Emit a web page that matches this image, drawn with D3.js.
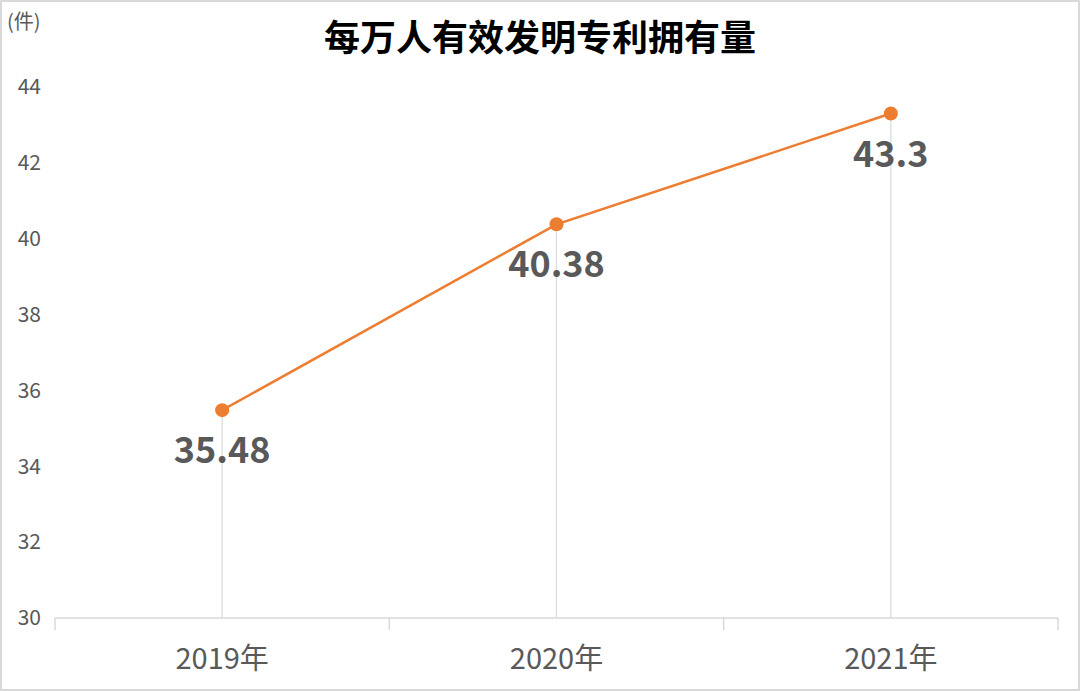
<!DOCTYPE html>
<html>
<head>
<meta charset="utf-8">
<script src="https://cdn.jsdelivr.net/npm/d3@7"></script>
<style>
  body { margin: 0; background: #fff; }
  text { font-family: "Noto Sans CJK SC", "Noto Sans", sans-serif; }
</style>
</head>
<body>
<div id="chart"></div>
<script>
// chart size
var svgWidth = 1080;
var svgHeight = 691;

// data
var years = ["2019年", "2020年", "2021年"];
var values = [35.48, 40.38, 43.3];
var yTicks = [30, 32, 34, 36, 38, 40, 42, 44];

var margin = { left: 55, right: 22, top: 87, bottom: 73 };

var svg = d3.select("#chart")
  .append("svg")
  .attr("width", svgWidth)
  .attr("height", svgHeight);

// outer frame
svg.append("rect")
  .attr("x", 1).attr("y", 1)
  .attr("width", svgWidth - 2).attr("height", svgHeight - 2)
  .attr("fill", "none")
  .attr("stroke", "#d9d9d9")
  .attr("stroke-width", 2);

var x = d3.scaleBand()
  .domain(years)
  .range([margin.left, svgWidth - margin.right]);

var y = d3.scaleLinear()
  .domain([30, 44])
  .range([svgHeight - margin.bottom, margin.top]);

// title
svg.append("text")
  .attr("x", 540).attr("y", 51)
  .attr("text-anchor", "middle")
  .attr("font-size", 36)
  .attr("font-weight", "bold")
  .attr("fill", "#000")
  .text("每万人有效发明专利拥有量");

// unit
svg.append("text")
  .attr("x", 7).attr("y", 29)
  .attr("font-size", 20)
  .attr("fill", "#595959")
  .text("(件)");

// y axis labels (no line)
var yAxis = svg.append("g")
  .attr("transform", "translate(41,0)")
  .call(d3.axisLeft(y).tickValues(yTicks).tickSize(0).tickPadding(0));
yAxis.select(".domain").remove();
yAxis.selectAll("text")
  .attr("font-size", 21)
  .attr("fill", "#595959")
  .style("font-family", "'Noto Sans CJK SC', sans-serif");

// x axis
var xAxisY = y(30);
svg.append("line")
  .attr("x1", margin.left).attr("x2", svgWidth - margin.right)
  .attr("y1", xAxisY).attr("y2", xAxisY)
  .attr("stroke", "#d9d9d9").attr("stroke-width", 1.5);

var bounds = years.map(function(d){ return x(d); }).concat([x(years[years.length - 1]) + x.bandwidth()]);
svg.selectAll("line.tick")
  .data(bounds)
  .enter()
  .append("line")
  .attr("class", "tick")
  .attr("x1", d => d).attr("x2", d => d)
  .attr("y1", xAxisY).attr("y2", xAxisY + 12)
  .attr("stroke", "#d9d9d9").attr("stroke-width", 1.5);

svg.selectAll("text.xlabel")
  .data(years)
  .enter()
  .append("text")
  .attr("class", "xlabel")
  .attr("x", d => x(d) + x.bandwidth() / 2)
  .attr("y", 669)
  .attr("text-anchor", "middle")
  .attr("font-size", 29)
  .attr("fill", "#595959")
  .text(d => d);

var pts = years.map(function(d, i){ return { year: d, value: values[i] }; });
var cx = d => x(d.year) + x.bandwidth() / 2;

// drop lines
svg.selectAll("line.drop")
  .data(pts)
  .enter()
  .append("line")
  .attr("class", "drop")
  .attr("x1", cx).attr("x2", cx)
  .attr("y1", d => y(d.value)).attr("y2", xAxisY)
  .attr("stroke", "#d9d9d9").attr("stroke-width", 1.2);

// line
var line = d3.line()
  .x(cx)
  .y(d => y(d.value));

svg.append("path")
  .datum(pts)
  .attr("d", line)
  .attr("fill", "none")
  .attr("stroke", "#ed7d31")
  .attr("stroke-width", 2.5);

svg.selectAll("circle.pt")
  .data(pts)
  .enter()
  .append("circle")
  .attr("class", "pt")
  .attr("cx", cx)
  .attr("cy", d => y(d.value))
  .attr("r", 7)
  .attr("fill", "#ed7d31");

// value labels
svg.selectAll("text.val")
  .data(pts)
  .enter()
  .append("text")
  .attr("class", "val")
  .attr("x", cx)
  .attr("y", d => y(d.value) + 53)
  .attr("text-anchor", "middle")
  .attr("font-size", 36)
  .attr("font-weight", "bold")
  .attr("fill", "#595959")
  .text(d => d.value);
</script>
</body>
</html>
